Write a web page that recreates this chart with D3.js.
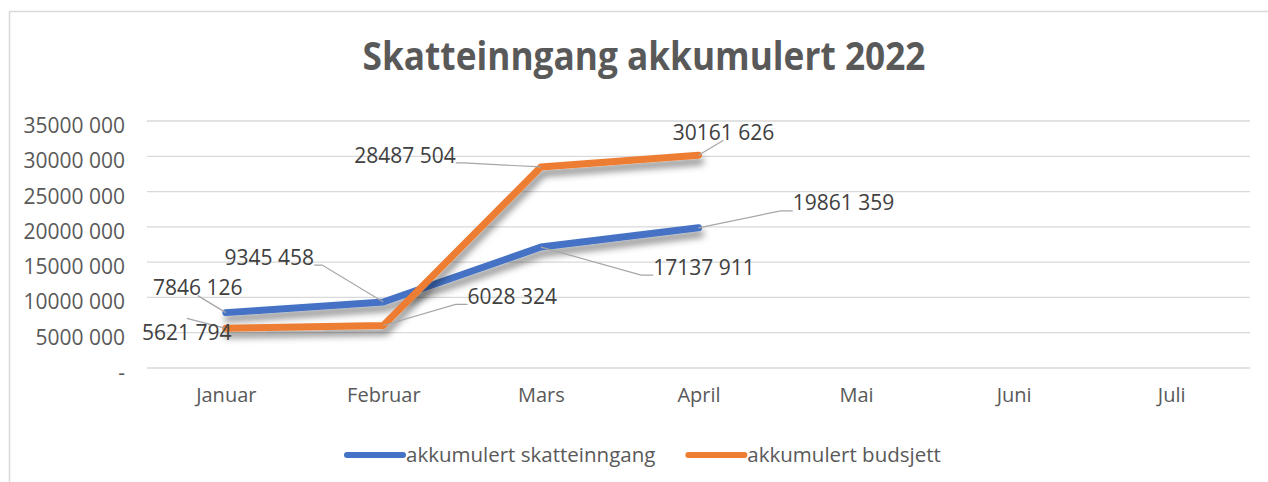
<!DOCTYPE html>
<html><head><meta charset="utf-8">
<script src="https://cdn.jsdelivr.net/npm/d3@7"></script>
<style>html,body{margin:0;padding:0;background:#fff;}svg{display:block;font-family:"Open Sans",sans-serif;}</style>
</head><body>
<svg id="c" width="1268" height="482"></svg>
<script>
const categories = ["Januar","Februar","Mars","April","Mai","Juni","Juli"];
const skatteinngang = [7846126, 9345458, 17137911, 19861359];
const budsjett = [5621794, 6028324, 28487504, 30161626];
const yTicks = [0,5000000,10000000,15000000,20000000,25000000,30000000,35000000];
const seriesNames = ["akkumulert skatteinngang","akkumulert budsjett"];
const colors = ["#4472C4","#ED7D31"];
// label offsets (px) relative to each point, per series
const labelOffsetsBlue = [[-28,-25],[-114,-45],[163,20],[145,-25]];
const labelOffsetsOrange = [[-39,4],[129,-29],[-136,-12],[25,-23]];

const svg = d3.select("#c");
const fmt = v => v === 0 ? "-" : Math.floor(v/1000) + " " + String(v%1000).padStart(3,"0");

// frame
svg.append("path").attr("d","M9.5,490 L9.5,11.5 L1280,11.5").attr("fill","none").attr("stroke","#d9d9d9").attr("stroke-width",1.5);

// title
svg.append("text").attr("x",644).attr("y",70).attr("text-anchor","middle")
  .attr("font-size",40).attr("font-weight",700).attr("fill","#595959")
  .attr("textLength",563).attr("lengthAdjust","spacingAndGlyphs").text("Skatteinngang akkumulert 2022");

const x = d3.scalePoint().domain(categories).range([147,1250]).padding(0.5);
const y = d3.scaleLinear().domain([0,35000000]).range([368,121]);

// grid
svg.append("g").selectAll("line").data(yTicks).join("line")
  .attr("x1",147).attr("x2",1250).attr("y1",d=>y(d)).attr("y2",d=>y(d))
  .attr("stroke","#d9d9d9").attr("stroke-width",1.3);

// y axis labels
const yAxis = d3.axisLeft(y).tickValues(yTicks).tickFormat(fmt).tickSize(0).tickPadding(0);
const gy = svg.append("g").attr("transform","translate(125,0)").call(yAxis);
gy.select(".domain").remove();
gy.selectAll("text").attr("font-size",21).attr("fill","#595959").attr("font-family","'Open Sans',sans-serif").attr("dy","0.55em");

// x axis labels
const xAxis = d3.axisBottom(x).tickSize(0).tickPadding(0);
const gx = svg.append("g").attr("transform","translate(0,385)").call(xAxis);
gx.select(".domain").remove();
gx.selectAll("text").attr("font-size",20).attr("fill","#595959").attr("font-family","'Open Sans',sans-serif").attr("dy","0.85em");

// shadow filter
const defs = svg.append("defs");
const f = defs.append("filter").attr("id","sh").attr("x","-10%").attr("y","-30%").attr("width","130%").attr("height","160%");
f.append("feDropShadow").attr("dx",2).attr("dy",6).attr("stdDeviation",3.5).attr("flood-color","#000").attr("flood-opacity",0.45);

const line = d3.line().x((d,i)=>x(categories[i])).y(d=>y(d));
const series = [skatteinngang, budsjett];
series.forEach((s,k)=>{
  svg.append("path").datum(s).attr("d",line).attr("fill","none")
    .attr("stroke",colors[k]).attr("stroke-width",7).attr("stroke-linejoin","round").attr("stroke-linecap","round")
    .attr("filter","url(#sh)");
});

// data labels with leader lines
const labG = svg.append("g");
const offs = [labelOffsetsBlue, labelOffsetsOrange];
series.forEach((s,k)=>{
  s.forEach((v,i)=>{
    const px = x(categories[i]), py = y(v);
    const cx = px + offs[k][i][0], cy = py + offs[k][i][1];
    const t = labG.append("text").attr("x",cx).attr("y",cy).attr("dy","0.36em").attr("text-anchor","middle")
      .attr("font-size",21).attr("fill","#404040").text(fmt(v));
    const w = t.node().getComputedTextLength();
    const left = cx - w/2, right = cx + w/2, top = cy - 8, bottom = cy + 8;
    let pts;
    if (px > right + 5) pts = [[right,bottom],[right+8,bottom],[px,py]];
    else if (px < left - 5) pts = [[left,bottom],[left-12,bottom],[px,py]];
    else pts = (cy < py) ? [[cx,bottom],[px,py]] : [[cx,top-6],[px,py]];
    labG.insert("polyline","text").attr("points",pts.map(p=>p.join(",")).join(" "))
      .attr("fill","none").attr("stroke","#a6a6a6").attr("stroke-width",1.2);
  });
});

// legend
const lg = svg.append("g");
let lx = 347;
seriesNames.forEach((n,k)=>{
  lg.append("line").attr("x1",lx).attr("x2",lx+56).attr("y1",455).attr("y2",455)
    .attr("stroke",colors[k]).attr("stroke-width",6).attr("stroke-linecap","round");
  const t = lg.append("text").attr("x",lx+59).attr("y",455).attr("dy","0.35em")
    .attr("font-size",20.5).attr("fill","#595959").text(n);
  lx += 59 + t.node().getComputedTextLength() + 33;
});
</script>
</body></html>
